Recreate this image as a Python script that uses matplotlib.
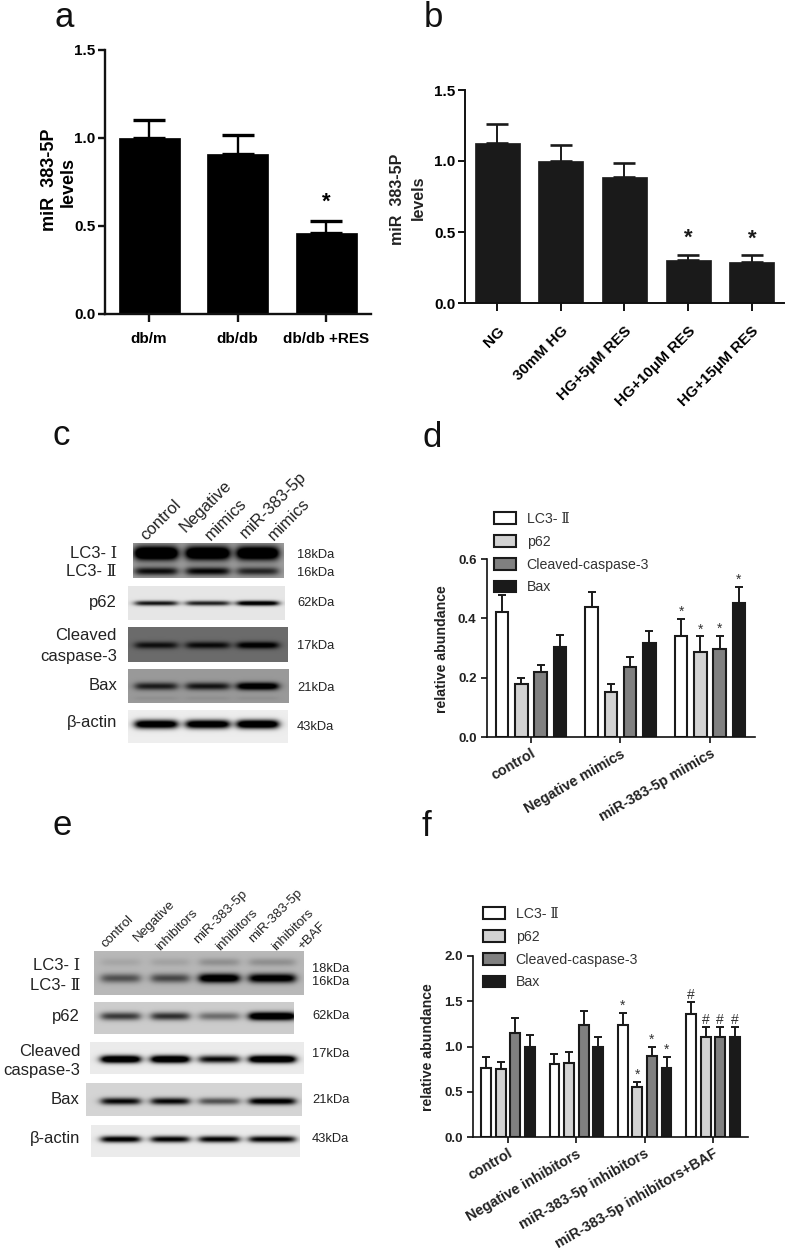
import numpy as np
import matplotlib
matplotlib.use('Agg')
import matplotlib.pyplot as plt
from matplotlib.patches import Patch

W, H = 787, 1251
SANS = 'Liberation Sans'
ROMAN = [SANS, 'DejaVu Serif']
plt.rcParams['font.family'] = SANS

# ---------- data ----------
a_labels = ['db/m', 'db/db', 'db/db +RES']
a_vals = [1.00, 0.91, 0.46]
a_errs = [0.105, 0.105, 0.07]
a_marks = ['', '', '*']

b_labels = ['NG', '30mM HG', 'HG+5μM RES', 'HG+10μM RES', 'HG+15μM RES']
b_vals = [1.13, 1.00, 0.89, 0.30, 0.29]
b_errs = [0.13, 0.11, 0.095, 0.04, 0.045]
b_marks = ['', '', '', '*', '*']

series_names = ['LC3- Ⅱ', 'p62', 'Cleaved-caspase-3', 'Bax']

d_labels = ['control', 'Negative mimics', 'miR-383-5p mimics']
d_vals = [[0.42, 0.437, 0.342], [0.18, 0.153, 0.287], [0.218, 0.236, 0.298], [0.302, 0.318, 0.452]]
d_errs = [[0.06, 0.052, 0.055], [0.02, 0.025, 0.052], [0.025, 0.035, 0.044], [0.042, 0.04, 0.054]]
d_marks = [['', '', '*'], ['', '', '*'], ['', '', '*'], ['', '', '*']]

f_labels = ['control', 'Negative inhibitors', 'miR-383-5p inhibitors', 'miR-383-5p inhibitors+BAF']
f_vals = [[0.757, 0.81, 1.235, 1.364], [0.754, 0.816, 0.55, 1.10], [1.147, 1.235, 0.90, 1.10], [0.996, 0.996, 0.765, 1.10]]
f_errs = [[0.123, 0.105, 0.135, 0.126], [0.076, 0.124, 0.06, 0.11], [0.169, 0.162, 0.096, 0.11], [0.134, 0.114, 0.121, 0.11]]
f_marks = [['', '', '*', '#'], ['', '', '*', '#'], ['', '', '*', '#'], ['', '', '*', '#']]

# blot band darkness, lane by lane
c_lc3_1 = [1.7, 1.6, 1.6]
c_lc3_2 = [0.95, 1.0, 0.8]
c_p62 = [0.95, 0.9, 1.2]
c_cc3 = [0.9, 0.95, 1.15]
c_bax = [0.85, 0.9, 1.3]
c_actin = [1.3, 1.3, 1.4]
e_lc3_1 = [0.12, 0.14, 0.25, 0.25]
e_lc3_2 = [0.6, 0.65, 1.3, 1.2]
e_p62 = [0.75, 0.8, 0.5, 1.4]
e_cc3 = [1.4, 1.4, 1.0, 1.4]
e_bax = [1.0, 1.0, 0.65, 1.1]
e_actin = [1.1, 1.05, 1.05, 1.05]

c_columns = ['control', 'Negative', 'mimics', 'miR-383-5p', 'mimics']
e_columns = ['control', 'Negative', 'inhibitors', 'miR-383-5p', 'inhibitors', 'miR-383-5p', 'inhibitors', '+BAF']
c_rows = ['LC3- Ⅰ', 'LC3- Ⅱ', 'p62', 'Cleaved', 'caspase-3', 'Bax', 'β-actin']
e_rows = c_rows
c_kda = ['18kDa', '16kDa', '62kDa', '17kDa', '21kDa', '43kDa']
e_kda = c_kda

# ---------- layout ----------
fig = plt.figure(figsize=(W / 100, H / 100), dpi=100, facecolor='white')
over = fig.add_axes([0, 0, 1, 1], zorder=5)
over.set_xlim(0, W)
over.set_ylim(H, 0)
over.axis('off')
over.patch.set_alpha(0)


def px_axes(x0, ytop, x1, ybot):
    return fig.add_axes([x0 / W, 1 - ybot / H, (x1 - x0) / W, (ybot - ytop) / H])


def style_axes(ax, lw, tl, tw):
    for s in ('top', 'right'):
        ax.spines[s].set_visible(False)
    for s in ('left', 'bottom'):
        ax.spines[s].set_linewidth(lw)
        ax.spines[s].set_color('#111111')
    ax.tick_params(length=tl, width=tw, color='#111111')


def simple_panel(box, first_tick, spacing, barw, vals, errs, marks, ymax, color, lw, capw,
                 caps, tickfont, mark_size, mark_off):
    x0, ytop, x1, ybot = box
    ax = px_axes(*box)
    ax.set_xlim((x0 - first_tick) / spacing, (x1 - first_tick) / spacing)
    ax.set_ylim(0, ymax)
    xs = np.arange(len(vals))
    ax.bar(xs, vals, width=barw / spacing, color=color, edgecolor=color, linewidth=0.5, zorder=2)
    ax.errorbar(xs, vals, yerr=[np.zeros(len(vals)), errs], fmt='none', ecolor=color,
                elinewidth=lw, capsize=caps, capthick=capw, zorder=1)
    for x, v, e, m in zip(xs, vals, errs, marks):
        if m:
            ax.annotate(m, (x, v + e), xytext=(0, mark_off), textcoords='offset points', ha='center',
                        va='bottom', fontsize=mark_size, fontweight='bold', color=color)
    ax.set_xticks(xs)
    ax.set_yticks(np.arange(0, ymax + 0.01, 0.5))
    ax.set_yticklabels([f'{t:.1f}' for t in ax.get_yticks()], **tickfont)
    style_axes(ax, lw, 5, lw)
    return ax, xs


# panel a
ax, xs = simple_panel((105, 50, 371, 314), 149, 88.5, 61, a_vals, a_errs, a_marks, 1.5,
                      'black', 1.7, 2.4, 11.5, dict(fontsize=11, fontweight='bold'), 16, 6)
ax.set_xticklabels(a_labels, fontsize=11, fontweight='bold')
ax.tick_params(axis='x', pad=7, length=6)
ax.tick_params(axis='y', pad=2)

# panel b
ax, xs = simple_panel((465, 90, 784, 303), 497, 63.7, 45, b_vals, b_errs, b_marks, 1.5,
                      '#1a1a1a', 1.4, 1.9, 8, dict(fontsize=11, fontweight='bold'), 16, 4)
ax.set_xticklabels(b_labels, fontsize=11, fontweight='bold', rotation=45, ha='right', va='top',
                   rotation_mode='anchor')
ax.tick_params(axis='x', pad=9, length=6)
ax.tick_params(axis='y', pad=2)


def group_panel(box, first_tick, spacing, step, barw, labels, vals, errs, marks, ymax, ystep, leg_xy):
    x0, ytop, x1, ybot = box
    ax = px_axes(*box)
    ax.set_xlim((x0 - first_tick) / spacing, (x1 - first_tick) / spacing)
    ax.set_ylim(0, ymax)
    colors = ['white', '#d2d2d2', '#808080', '#1a1a1a']
    n = len(labels)
    xs = np.arange(n)
    for i, col in enumerate(colors):
        off = (i - 1.5) * step / spacing
        ax.bar(xs + off, vals[i], width=barw / spacing, color=col, edgecolor='#1a1a1a', linewidth=1.5,
               zorder=2, label=series_names[i])
        ax.errorbar(xs + off, vals[i], yerr=[np.zeros(n), errs[i]], fmt='none', ecolor='#1a1a1a',
                    elinewidth=1.4, capsize=2.8, capthick=1.4, zorder=1)
        for x, v, e, m in zip(xs + off, vals[i], errs[i], marks[i]):
            if m:
                ax.annotate(m, (x, v + e), xytext=(0, 0), textcoords='offset points', ha='center',
                            va='bottom', fontsize=10, color='#333333')
    ax.set_xticks(xs)
    ax.set_xticklabels(labels, fontsize=10.4, fontweight='bold', rotation=30, ha='right', va='top',
                       rotation_mode='anchor', color='#222222')
    ax.set_yticks(np.arange(0, ymax + 0.001, ystep))
    ax.set_yticklabels([f'{t:.1f}' for t in ax.get_yticks()], fontsize=9.5, fontweight='bold', color='#222222')
    style_axes(ax, 1.2, 4, 1.2)
    ax.tick_params(axis='x', pad=3)
    handles = [Patch(facecolor=c, edgecolor='#1a1a1a', linewidth=1.5) for c in colors]
    leg = ax.legend(handles, series_names, loc='upper left', bbox_to_anchor=leg_xy,
                    bbox_transform=over.transData, frameon=False, borderaxespad=0, borderpad=0,
                    handlelength=1.55, handleheight=0.9, handletextpad=0.75, labelspacing=0.62,
                    prop=dict(family=ROMAN, size=10.2))
    for t in leg.get_texts():
        t.set_color('#333333')
    return ax


group_panel((487, 559, 755, 737), 531, 89.5, 19.2, 12.5, d_labels, d_vals, d_errs, d_marks, 0.6, 0.2, (494, 512))
group_panel((473, 956, 748, 1137), 508, 68.3, 14.6, 9.8, f_labels, f_vals, f_errs, f_marks, 2.0, 0.5, (483, 907))


# ---------- blots ----------
def blot(box, bg, lanes, bands):
    x0, y0, x1, y1 = box
    X, Y = np.meshgrid(np.arange(x0, x1, 0.5), np.arange(y0, y1, 0.5))
    dark = np.zeros_like(X, dtype=float)
    for yc, sig, ints in bands:
        for (a, b), I in zip(lanes, ints):
            edge = 2.5
            prof = 1 / (1 + np.exp((a + 2 - X) / edge)) * 1 / (1 + np.exp((X - b + 2) / edge))
            dark += I * prof * np.exp(-((Y - yc) / sig) ** 2 / 2)
    img = bg * (1 - np.clip(dark, 0, 1) ** 1.1)
    over.imshow(img, extent=(x0, x1, y1, y0), cmap='gray', vmin=0, vmax=1, aspect='auto',
                interpolation='bilinear', zorder=1)


lanes_c = [(133, 179), (184, 231), (235, 280)]
blot((133, 543, 284, 578), 0.62, lanes_c, [(553, 5, c_lc3_1), (571, 3, c_lc3_2)])
blot((128, 586, 285, 620), 0.90, lanes_c, [(603, 1.8, c_p62)])
blot((128, 627, 288, 662), 0.42, lanes_c, [(645, 2.6, c_cc3)])
blot((128, 669, 289, 703), 0.60, lanes_c, [(686, 2.8, c_bax), (698, 1.5, [0.08, 0.08, 0.08])])
blot((128, 710, 288, 743), 0.93, lanes_c, [(724, 3.2, c_actin)])

lanes_e = [(99, 142), (149, 191), (197, 241), (247, 297)]
blot((94, 951, 304, 995), 0.72, lanes_e, [(962, 3, e_lc3_1), (978, 3.4, e_lc3_2)])
blot((94, 1002, 294, 1034), 0.80, lanes_e, [(1016, 3, e_p62)])
blot((90, 1042, 304, 1074), 0.92, lanes_e, [(1059, 2.8, e_cc3)])
blot((86, 1083, 302, 1116), 0.83, lanes_e, [(1101, 2.6, e_bax)])
blot((91, 1125, 300, 1157), 0.92, lanes_e, [(1139, 2.4, e_actin)])
over.set_xlim(0, W)
over.set_ylim(H, 0)


def put(x, y, s, **kw):
    over.text(x, y, s, **kw)


# panel letters
for s, x, y in [('a', 54, 27), ('b', 424, 27), ('c', 53, 445), ('d', 423, 447), ('e', 53, 835), ('f', 421, 836)]:
    put(x, y, s, fontsize=25, va='baseline', ha='left', color='#111111')

# y titles
put(50, 180, 'miR  383-5P', rotation=90, fontsize=13, fontweight='bold', ha='center', va='center')
put(68, 182, 'levels', rotation=90, fontsize=13, fontweight='bold', ha='center', va='center')
put(398, 199, 'miR  383-5P', rotation=90, fontsize=11.5, fontweight='bold', ha='center', va='center', color='#222222')
put(418, 198, 'levels', rotation=90, fontsize=11.5, fontweight='bold', ha='center', va='center', color='#222222')
put(442, 649, 'relative abundance', rotation=90, fontsize=10.2, fontweight='bold', ha='center', va='center', color='#222222')
put(428, 1047, 'relative abundance', rotation=90, fontsize=10.2, fontweight='bold', ha='center', va='center', color='#222222')

# blot c texts
c_col_xy = [(146, 541), (186, 533), (211, 541), (246, 539), (274, 541)]
for s, (x, y) in zip(c_columns, c_col_xy):
    put(x, y, s, rotation=45, rotation_mode='anchor', ha='left', va='baseline', fontsize=12, color='#222222')
c_row_y = [553, 572, 603, 636, 656, 685, 723]
for s, y in zip(c_rows, c_row_y):
    put(117, y, s, ha='right', va='center', fontsize=12, family=ROMAN, color='#222222')
c_kda_y = [555, 573, 603, 646, 688, 727]
for s, y in zip(c_kda, c_kda_y):
    put(297, y, s, ha='left', va='center', fontsize=9.3, color='#222222')

# blot e texts
e_col_xy = [(105, 948), (138, 942), (160, 951), (198, 944), (220, 951), (253, 943), (276, 951), (302, 950)]
for s, (x, y) in zip(e_columns, e_col_xy):
    put(x, y, s, rotation=45, rotation_mode='anchor', ha='left', va='baseline', fontsize=9.6, color='#222222')
e_row_y = [965, 985, 1016, 1051, 1071, 1099, 1138]
for s, y in zip(e_rows, e_row_y):
    put(80, y, s, ha='right', va='center', fontsize=12, family=ROMAN, color='#222222')
e_kda_y = [969, 982, 1016, 1054, 1100, 1139]
for s, y in zip(e_kda, e_kda_y):
    put(312, y, s, ha='left', va='center', fontsize=9.3, color='#222222')

fig.savefig('out.png', dpi=100, facecolor='white')
